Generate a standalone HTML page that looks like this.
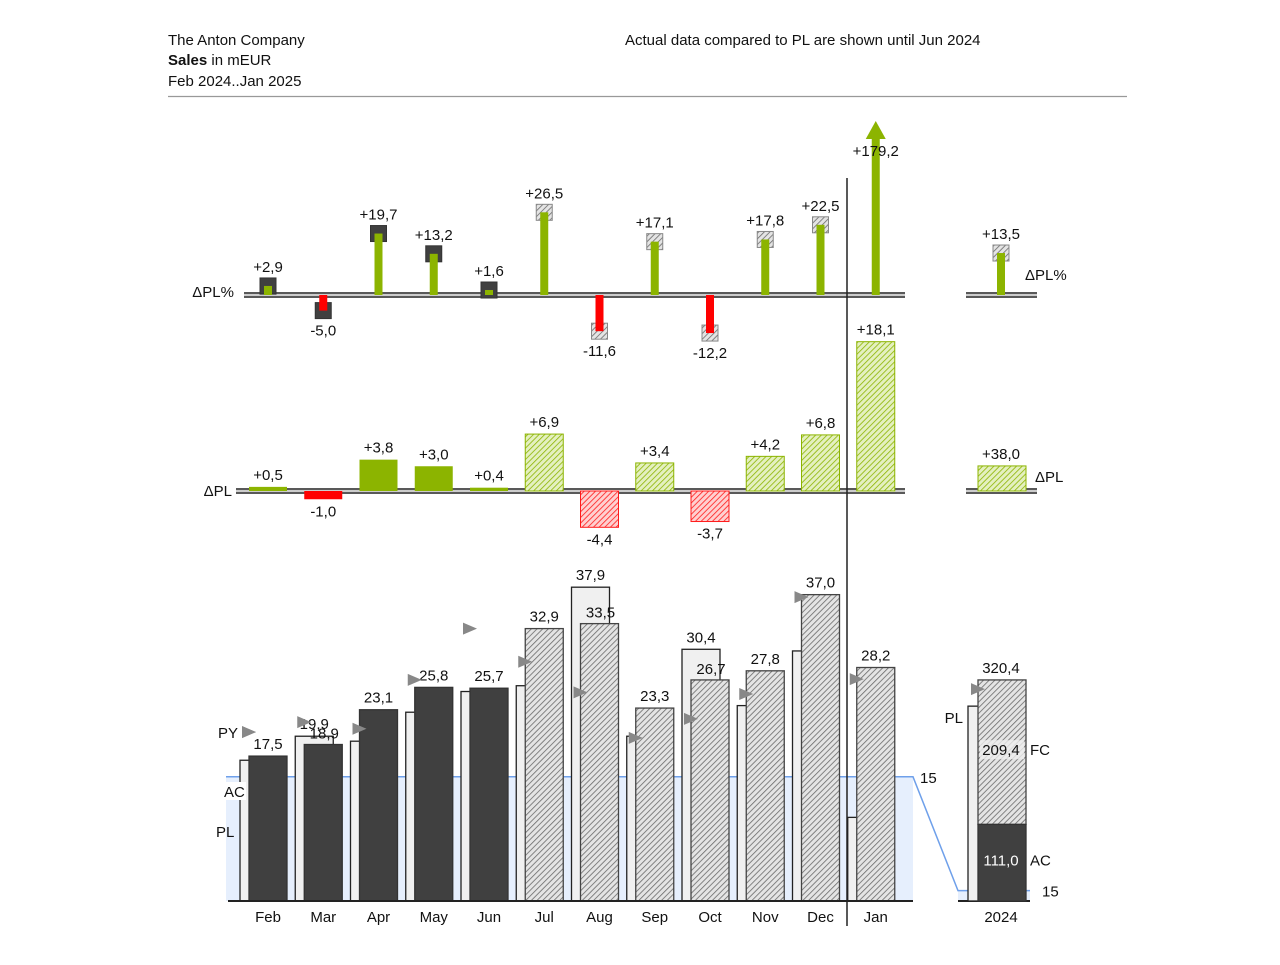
<!DOCTYPE html>
<html><head><meta charset="utf-8"><style>
body{margin:0;background:#fff;font-family:"Liberation Sans",sans-serif;}
svg text{font-family:"Liberation Sans",sans-serif;font-size:15px;fill:#111;}
</style></head><body>
<svg id="c" width="1280" height="960" xmlns="http://www.w3.org/2000/svg">
<defs>
<pattern id="hg" patternUnits="userSpaceOnUse" width="4" height="4" patternTransform="rotate(45)"><rect width="4" height="4" fill="#e4e4e4"/><line x1="0" y1="0" x2="0" y2="4" stroke="#6a6a6a" stroke-width="1.6"/></pattern>
<pattern id="hgr" patternUnits="userSpaceOnUse" width="4" height="4" patternTransform="rotate(45)"><rect width="4" height="4" fill="#e4f0c0"/><line x1="0" y1="0" x2="0" y2="4" stroke="#8cb400" stroke-width="1.6"/></pattern>
<pattern id="hr" patternUnits="userSpaceOnUse" width="4" height="4" patternTransform="rotate(45)"><rect width="4" height="4" fill="#ffd0d0"/><line x1="0" y1="0" x2="0" y2="4" stroke="#ff1a1a" stroke-width="1.6"/></pattern>
</defs>
<text x="168" y="45">The Anton Company</text>
<text x="168" y="65"><tspan font-weight="bold">Sales</tspan> in mEUR</text>
<text x="168" y="86">Feb 2024..Jan 2025</text>
<text x="625" y="45">Actual data compared to PL are shown until Jun 2024</text>
<line x1="168" y1="96.5" x2="1127" y2="96.5" stroke="#999" stroke-width="1.2"/>
<g id="g"></g>
</svg>
<script>
const months=["Feb","Mar","Apr","May","Jun","Jul","Aug","Sep","Oct","Nov","Dec","Jan"];
const acValues=[17.5,18.9,23.1,25.8,25.7,32.9,33.5,23.3,26.7,27.8,37.0,28.2];
const deltaPL=[0.5,-1.0,3.8,3.0,0.4,6.9,-4.4,3.4,-3.7,4.2,6.8,18.1];
const deltaPLPct=[2.9,-5.0,19.7,13.2,1.6,26.5,-11.6,17.1,-12.2,17.8,22.5,179.2];
const pyValues=[20.4,21.6,20.8,26.7,32.9,28.9,25.2,19.7,22.0,25.0,36.7,26.8];
const actualCount=5;
const totalPY=307;
const scaleRef=15;

const G=document.getElementById('g');
const NS="http://www.w3.org/2000/svg";
function el(t,a,txt){const e=document.createElementNS(NS,t);for(const k in a)e.setAttribute(k,a[k]);if(txt!==undefined)e.textContent=txt;G.appendChild(e);return e;}
const fmt=v=>v.toFixed(1).replace('.',',');
const sfmt=v=>(v>0?'+':'')+fmt(v);
const xC=i=>268+55.25*i;
const yM=v=>901-v*8.28;
const yD=v=>491-v*8.25;
const yP=v=>295-v*3.12;
const yT=v=>901-v*0.69;
const yTD=v=>491-v*0.66;
const TX=1001;

// scale band
let b=el('rect',{x:226,y:yM(scaleRef),width:687,height:901-yM(scaleRef),fill:'#e6effd'});

b=el('rect',{x:958,y:yT(scaleRef),width:72,height:901-yT(scaleRef),fill:'#e6effd'});

b=el('polyline',{points:`226,${yM(scaleRef)} 913,${yM(scaleRef)} 958,${yT(scaleRef)} 1030,${yT(scaleRef)}`,fill:'none',stroke:'#6fa0ea','stroke-width':1.5});

b=el('text',{x:920,y:yM(scaleRef)+6},String(scaleRef));

b=el('text',{x:1042,y:yT(scaleRef)+6},String(scaleRef));


// baselines
function dbl(x1,x2,y,name){const r=el('g',{});
 el('line',{x1,x2,y1:y-2,y2:y-2,stroke:'#222','stroke-width':1.5});el('line',{x1,x2,y1:y,y2:y,stroke:'#999','stroke-width':1});el('line',{x1,x2,y1:y+2,y2:y+2,stroke:'#222','stroke-width':1.5});}
dbl(244,905,295,'delta-pct-axis');dbl(966,1037,295,'total-delta-pct-axis');
dbl(236,905,491,'delta-pl-axis');dbl(966,1037,491,'total-delta-pl-axis');

months.forEach((m,i)=>{
 const c=xC(i),fc=i>=actualCount,ac=acValues[i],pl=ac-deltaPL[i];
 // PL bar
 let r=el('rect',{x:c-28,y:yM(pl),width:38,height:901-yM(pl),fill:'#f0f0f0',stroke:'#222','stroke-width':1.3});
 
 r=el('rect',{x:c-19,y:yM(ac),width:38,height:901-yM(ac),fill:fc?'url(#hg)':'#404040',stroke:fc?'#444':'#333','stroke-width':1.3});
 
 if(pl>ac){r=el('text',{x:c-9,y:yM(pl)-7,'text-anchor':'middle'},fmt(pl));
  r=el('text',{x:c+1,y:yM(ac)-6,'text-anchor':'middle'},fmt(ac));}
 else r=el('text',{x:c,y:yM(ac)-7,'text-anchor':'middle'},fmt(ac));
 
 // PY triangle
 const py=yM(pyValues[i]);
 r=el('polygon',{points:`${c-26},${py-6} ${c-12},${py} ${c-26},${py+6}`,fill:'#888'});
 
 r=el('text',{x:c,y:922,'text-anchor':'middle'},m);
 
 // delta PL
 const d=deltaPL[i],y0=Math.min(yD(d),491),h=Math.abs(yD(d)-491);
 const fill=d>=0?(fc?'url(#hgr)':'#8cb400'):(fc?'url(#hr)':'#ff0000');
 r=el('rect',{x:c-19,y:y0,width:38,height:h,fill,stroke:d>=0?'#8cb400':'#ff1a1a','stroke-width':fc?1:0});
 
 r=el('text',{x:c,y:d>=0?yD(d)-7:yD(d)+17,'text-anchor':'middle'},sfmt(d));
 
 // delta PL %
 const p=deltaPLPct[i],col=p>=0?'#8cb400':'#ff0000';
 if(p>50){const top=121;
  r=el('rect',{x:c-4,y:top+16,width:8,height:295-top-16,fill:col});
  r=el('polygon',{points:`${c-10},${top+18} ${c},${top} ${c+10},${top+18}`,fill:col});
  r=el('text',{x:c,y:156,'text-anchor':'middle'},sfmt(p));
 } else {
  const yp=yP(p);
  r=el('rect',{x:c-8,y:yp-8,width:16,height:16,fill:fc?'url(#hg)':'#404040',stroke:fc?'#888':'#333','stroke-width':1});
  
  r=el('rect',{x:c-4,y:Math.min(yp,295),width:8,height:Math.abs(295-yp),fill:col});
  
  r=el('text',{x:c,y:p>=0?yp-14:yp+25,'text-anchor':'middle'},sfmt(p));
 }
 
});

// main axis
b=el('line',{x1:228,x2:913,y1:901,y2:901,stroke:'#222','stroke-width':2});

b=el('line',{x1:958,x2:1030,y1:901,y2:901,stroke:'#222','stroke-width':2});

b=el('line',{x1:847,x2:847,y1:178,y2:926,stroke:'#222','stroke-width':1.5});


// totals
const sum=a=>a.reduce((s,v)=>s+v,0);
const totAC=sum(acValues.slice(0,actualCount)),totFC=sum(acValues.slice(actualCount)),tot=totAC+totFC,totD=sum(deltaPL),totPL=tot-totD,totPct=totD/totPL*100;
b=el('rect',{x:TX-33,y:yT(totPL),width:48,height:901-yT(totPL),fill:'#f0f0f0',stroke:'#222','stroke-width':1.3});

b=el('rect',{x:TX-23,y:yT(tot),width:48,height:yT(totAC)-yT(tot),fill:'url(#hg)',stroke:'#444','stroke-width':1.3});

b=el('rect',{x:TX-23,y:yT(totAC),width:48,height:901-yT(totAC),fill:'#404040',stroke:'#333','stroke-width':1.3});

b=el('polygon',{points:`${TX-30},${yT(totalPY)-6} ${TX-16},${yT(totalPY)} ${TX-30},${yT(totalPY)+6}`,fill:'#888'});

b=el('text',{x:TX,y:yT(tot)-7,'text-anchor':'middle'},fmt(tot));

b=el('rect',{x:TX-21,y:(yT(tot)+yT(totAC))/2-12,width:44,height:19,fill:'#eee',opacity:0.8});

b=el('text',{x:TX,y:(yT(tot)+yT(totAC))/2+3,'text-anchor':'middle'},fmt(totFC));

b=el('text',{x:TX,y:(yT(totAC)+901)/2+3,'text-anchor':'middle',style:'fill:#fff'},fmt(totAC));

b=el('text',{x:1030,y:(yT(tot)+yT(totAC))/2+3},'FC');
b=el('text',{x:1030,y:(yT(totAC)+901)/2+3},'AC');
b=el('text',{x:963,y:723,'text-anchor':'end'},'PL');
b=el('text',{x:TX,y:922,'text-anchor':'middle'},'2024');
// total delta PL
b=el('rect',{x:TX-23,y:yTD(totD),width:48,height:491-yTD(totD),fill:'url(#hgr)',stroke:'#8cb400','stroke-width':1});

b=el('text',{x:TX,y:yTD(totD)-7,'text-anchor':'middle'},sfmt(totD));
b=el('text',{x:1035,y:482},'ΔPL');
// total delta %
const yp=yP(totPct);
b=el('rect',{x:TX-8,y:yp-8,width:16,height:16,fill:'url(#hg)',stroke:'#888'});
b=el('rect',{x:TX-4,y:yp,width:8,height:295-yp,fill:'#8cb400'});
b=el('text',{x:TX,y:yp-14,'text-anchor':'middle'},sfmt(totPct));
b=el('text',{x:1025,y:280},'ΔPL%');
// left legends
b=el('text',{x:234,y:297,'text-anchor':'end'},'ΔPL%');
b=el('text',{x:232,y:496,'text-anchor':'end'},'ΔPL');
b=el('text',{x:218,y:738},'PY');
b=el('polygon',{points:'242,726 256,732 242,738',fill:'#888'});
b=el('rect',{x:222,y:782,width:24,height:18,fill:'#fff'});
b=el('text',{x:224,y:797},'AC');
b=el('text',{x:216,y:837},'PL');
</script>
</body></html>
